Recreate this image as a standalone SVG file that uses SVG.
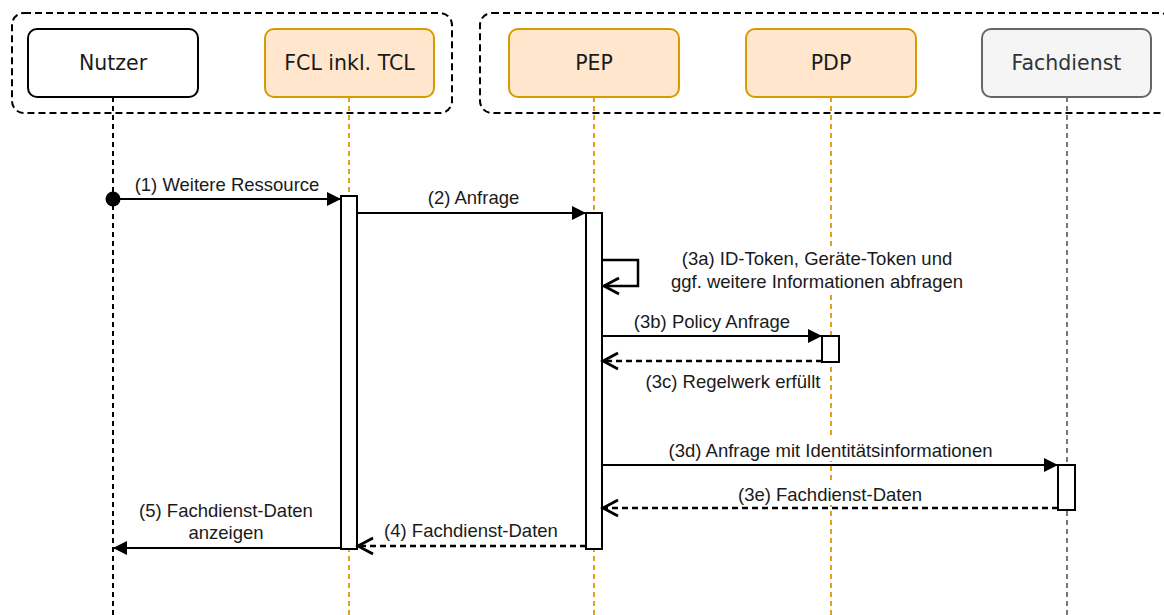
<svg xmlns="http://www.w3.org/2000/svg" width="1164" height="615" viewBox="0 0 1164 615">
<style>
.frame{fill:none;stroke:#000;stroke-width:2;stroke-dasharray:7 4}
.node{stroke-width:2}
.plain{fill:#fff;stroke:#000}
.orange{fill:#ffe6cc;stroke:#d79b00}
.grey{fill:#f5f5f5;stroke:#666}
.ntext{font-family:"DejaVu Sans",Verdana,sans-serif;font-size:20.5px;text-anchor:middle;fill:#1a1a1a}
.ltext{font-family:"Liberation Sans",Arial,sans-serif;font-size:18.5px;text-anchor:middle;fill:#1a1a1a}
.life{fill:none;stroke-width:2;stroke-dasharray:5 4}
.act{fill:#fff;stroke:#000;stroke-width:2}
.msg{fill:none;stroke:#000;stroke-width:2}
.loop{fill:none;stroke:#000;stroke-width:2.5}
.ret{fill:none;stroke:#000;stroke-width:2.5;stroke-dasharray:6 4}
.bg{fill:#fff}
</style>
<defs>
<marker id="fill" markerUnits="userSpaceOnUse" markerWidth="16" markerHeight="16" refX="14" refY="7" orient="auto" overflow="visible">
<path d="M0,0 L14,7 L0,14 Z" fill="#000"/>
</marker>
<marker id="open" markerUnits="userSpaceOnUse" markerWidth="18" markerHeight="18" refX="16" refY="8" orient="auto" overflow="visible">
<path d="M1,0 L16,8 L1,16" fill="none" stroke="#000" stroke-width="2.8"/>
</marker>
</defs>
<rect width="1164" height="615" fill="#fff"/>
<g id="frames">
<rect class="frame" x="12" y="13" width="440" height="100" rx="12"/>
<rect class="frame" x="480" y="13" width="692" height="100" rx="12"/>
</g>
<g id="lifelines">
<line class="life" x1="113" y1="97" x2="113" y2="615" stroke="#000" stroke-width="3"/>
<line class="life" x1="349" y1="97" x2="349" y2="615" stroke="#e0a020"/>
<line class="life" x1="594" y1="97" x2="594" y2="615" stroke="#e0a020"/>
<line class="life" x1="831" y1="97" x2="831" y2="615" stroke="#e0a020"/>
<line class="life" x1="1067" y1="97" x2="1067" y2="615" stroke="#777" stroke-width="1.5"/>
</g>
<g id="nutzer">
<rect class="node plain" x="28" y="29" width="170" height="68" rx="9"/>
<text class="ntext" x="113" y="69.5">Nutzer</text>
</g>
<g id="fcl">
<rect class="node orange" x="265" y="29" width="169" height="68" rx="9"/>
<text class="ntext" x="349.5" y="69.5">FCL inkl. TCL</text>
</g>
<g id="pep">
<rect class="node orange" x="509" y="29" width="170" height="68" rx="9"/>
<text class="ntext" x="594" y="69.5">PEP</text>
</g>
<g id="pdp">
<rect class="node orange" x="746" y="29" width="170" height="68" rx="9"/>
<text class="ntext" x="831" y="69.5">PDP</text>
</g>
<g id="fachdienst">
<rect class="node grey" x="982" y="29" width="169" height="68" rx="9"/>
<text class="ntext" x="1066.5" y="69.5" style="fill:#333">Fachdienst</text>
</g>
<g id="activations">
<rect class="act" x="341" y="196" width="16" height="353"/>
<rect class="act" x="586" y="213" width="16" height="336"/>
<rect class="act" x="822" y="336" width="17" height="26"/>
<rect class="act" x="1058" y="465" width="17" height="45"/>
</g>
<g id="connectors">
<circle cx="113" cy="199" r="7.5" fill="#000"/>
<line class="msg" x1="113" y1="199" x2="341" y2="199" marker-end="url(#fill)"/>
<text class="ltext" x="227" y="191">(1) Weitere Ressource</text>
<line class="msg" x1="357" y1="213" x2="586" y2="213" marker-end="url(#fill)"/>
<text class="ltext" x="473.5" y="204">(2) Anfrage</text>
<polyline class="loop" points="602,260 638,260 638,286 604,286" marker-end="url(#open)"/>
<rect class="bg" x="668" y="246" width="298" height="47"/>
<text class="ltext" x="817" y="265">(3a) ID-Token, Geräte-Token und</text>
<text class="ltext" x="817" y="287.5">ggf. weitere Informationen abfragen</text>
<line class="msg" x1="602" y1="336" x2="822" y2="336" marker-end="url(#fill)"/>
<text class="ltext" x="712" y="327.5">(3b) Policy Anfrage</text>
<line class="ret" x1="822" y1="361" x2="603" y2="361" marker-end="url(#open)"/>
<text class="ltext" x="733" y="388.3">(3c) Regelwerk erfüllt</text>
<rect class="bg" x="666" y="438" width="330" height="23"/>
<line class="msg" x1="602" y1="465" x2="1058" y2="465" marker-end="url(#fill)"/>
<text class="ltext" x="830.5" y="456.7">(3d) Anfrage mit Identitätsinformationen</text>
<rect class="bg" x="736" y="482" width="189" height="23"/>
<line class="ret" x1="1058" y1="508" x2="603" y2="508" marker-end="url(#open)"/>
<text class="ltext" x="830" y="500.7">(3e) Fachdienst-Daten</text>
<line class="ret" x1="586" y1="546" x2="358" y2="546" marker-end="url(#open)"/>
<text class="ltext" x="471" y="536.7">(4) Fachdienst-Daten</text>
<line class="msg" x1="341" y1="548" x2="113" y2="548" marker-end="url(#fill)"/>
<text class="ltext" x="226" y="517.3">(5) Fachdienst-Daten</text>
<text class="ltext" x="226" y="538.5">anzeigen</text>
</g>
</svg>
